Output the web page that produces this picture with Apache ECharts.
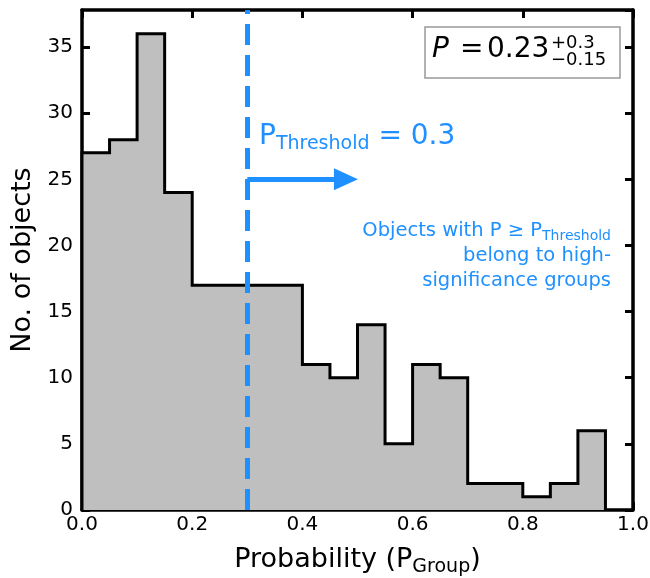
<!DOCTYPE html>
<html>
<head>
<meta charset="utf-8">
<script src="https://cdn.jsdelivr.net/npm/echarts@6/dist/echarts.min.js"></script>
<style>
  html, body { margin: 0; padding: 0; background: #fff; }
  #main { width: 650px; height: 578px; }
</style>
</head>
<body>
<div id="main"></div>
<script>
// histogram bins (left edges) and counts
var binEdges = [0, 0.05, 0.1, 0.15, 0.2, 0.25, 0.3, 0.35, 0.4, 0.45,
                0.5, 0.55, 0.6, 0.65, 0.7, 0.75, 0.8, 0.85, 0.9];
var binWidth = 0.05;
var counts = [27, 28, 36, 24, 17, 17, 17, 17, 11, 10,
              14, 5, 11, 10, 2, 2, 1, 2, 6];
var xTicks = [0, 0.2, 0.4, 0.6, 0.8, 1.0];
var yTicks = [0, 5, 10, 15, 20, 25, 30, 35];
var threshold = 0.3;
var arrowFrom = [0.3, 25];
var arrowTo = [0.479, 25];

var FONT = "DejaVu Sans";
var BLUE = "#1e90ff";

// step outline of the histogram
var stepData = [[binEdges[0], 0]];
for (var i = 0; i < counts.length; i++) {
  stepData.push([binEdges[i], counts[i]]);
}
var lastEdge = binEdges[binEdges.length - 1] + binWidth;
stepData.push([lastEdge, counts[counts.length - 1]]);
stepData.push([lastEdge, 0]);

var frameLine = { show: true, onZero: false, lineStyle: { color: "#000", width: 3.5 } };
var tick = { show: true, inside: true, length: 8, lineStyle: { color: "#000", width: 3 } };
var labelStyle = { color: "#000", fontSize: 20, fontFamily: FONT };

var myChart = echarts.init(document.getElementById("main"));
var option = {
  animation: false,
  backgroundColor: "#fff",
  grid: { left: 82, right: 17, top: 10, bottom: 68, containLabel: false, outerBoundsMode: "none" },
  xAxis: [
    {
      type: "value", min: 0, max: 1, interval: 0.2, position: "bottom",
      axisLine: frameLine, axisTick: tick, splitLine: { show: false },
      axisLabel: Object.assign({ margin: 5, formatter: function (v) { return v.toFixed(1); } }, labelStyle),
      name: "Probability (P{s|Group})",
      nameLocation: "middle",
      nameGap: 33,
      nameTextStyle: {
        color: "#000", fontSize: 27, fontFamily: FONT, lineHeight: 34,
        rich: { s: { fontSize: 19, fontFamily: FONT, color: "#000", lineHeight: 19, verticalAlign: "bottom" } },
      },
    },
    {
      type: "value", min: 0, max: 1, interval: 0.2, position: "top",
      axisLine: frameLine, axisTick: tick, splitLine: { show: false },
      axisLabel: { show: false },
    },
  ],
  yAxis: [
    {
      type: "value", min: 0, max: 37.8, interval: 5, position: "left",
      axisLine: frameLine, axisTick: tick, splitLine: { show: false },
      axisLabel: Object.assign({
        margin: 9, showMaxLabel: false,
        formatter: function (v) { return yTicks.indexOf(v) >= 0 ? String(v) : ""; },
      }, labelStyle),
      name: "No. of objects",
      nameLocation: "middle",
      nameGap: 41,
      nameTextStyle: { color: "#000", fontSize: 27, fontFamily: FONT },
    },
    {
      type: "value", min: 0, max: 37.8, interval: 5, position: "right",
      axisLine: frameLine, axisTick: tick, splitLine: { show: false },
      axisLabel: { show: false },
    },
  ],
  series: [
    {
      name: "hist",
      type: "line",
      step: "end",
      data: stepData,
      symbol: "none",
      lineStyle: { color: "#000", width: 3, join: "miter" },
      areaStyle: { color: "#bfbfbf", opacity: 1 },
      z: 2,
    },
    {
      name: "threshold",
      type: "line",
      data: [],
      markLine: {
        silent: true,
        symbol: "none",
        label: { show: false },
        lineStyle: { color: BLUE, width: 5, type: [21, 10] },
        data: [{ xAxis: threshold }],
      },
      z: 5,
    },
    {
      name: "arrow",
      type: "line",
      data: [],
      markLine: {
        silent: true,
        symbol: ["none", "triangle"],
        symbolSize: [22, 24],
        label: { show: false },
        lineStyle: { color: BLUE, width: 5, type: "solid" },
        data: [[{ coord: arrowFrom }, { coord: arrowTo }]],
      },
      z: 5,
    },
  ],
};
myChart.setOption(option);

// annotations
myChart.setOption({
  graphic: [
    {
      type: "text", z: 10,
      style: {
        x: 259, y: 137, verticalAlign: "middle",
        text: "{m|P}{s|Threshold}{m| = 0.3}",
        rich: {
          m: { fontSize: 28, fontFamily: FONT, fill: BLUE, lineHeight: 34 },
          s: { fontSize: 19, fontFamily: FONT, fill: BLUE, lineHeight: 19, verticalAlign: "bottom" },
        },
      },
    },
    {
      type: "text", z: 10,
      style: {
        x: 611, y: 218, align: "right", verticalAlign: "top",
        text: "{m|Objects with P \u2265 P}{s|Threshold}\n{m|belong to high-}\n{m|significance groups}",
        rich: {
          m: { fontSize: 19.5, fontFamily: FONT, fill: BLUE, lineHeight: 25 },
          s: { fontSize: 14, fontFamily: FONT, fill: BLUE, lineHeight: 17, verticalAlign: "bottom" },
        },
      },
    },
    {
      type: "rect", z: 10,
      shape: { x: 425, y: 27, width: 195, height: 51 },
      style: { fill: "#fff", stroke: "#999", lineWidth: 1.5 },
    },
    {
      type: "text", z: 11,
      style: { x: 432, y: 50, text: "P", verticalAlign: "middle", fontSize: 28, fontStyle: "italic", fontFamily: FONT, fill: "#000" },
    },
    {
      type: "text", z: 11,
      style: { x: 460, y: 50, text: "=", verticalAlign: "middle", fontSize: 28, fontFamily: FONT, fill: "#000" },
    },
    {
      type: "text", z: 11,
      style: { x: 487, y: 50, text: "0.23", verticalAlign: "middle", fontSize: 28, fontFamily: FONT, fill: "#000" },
    },
    {
      type: "text", z: 11,
      style: { x: 551, y: 43.5, text: "+0.3", verticalAlign: "middle", fontSize: 18, fontFamily: FONT, fill: "#000" },
    },
    {
      type: "text", z: 11,
      style: { x: 551, y: 60.5, text: "\u22120.15", verticalAlign: "middle", fontSize: 18, fontFamily: FONT, fill: "#000" },
    },
  ],
});

window.addEventListener("resize", function () {
  myChart.resize();
});
</script>
</body>
</html>
